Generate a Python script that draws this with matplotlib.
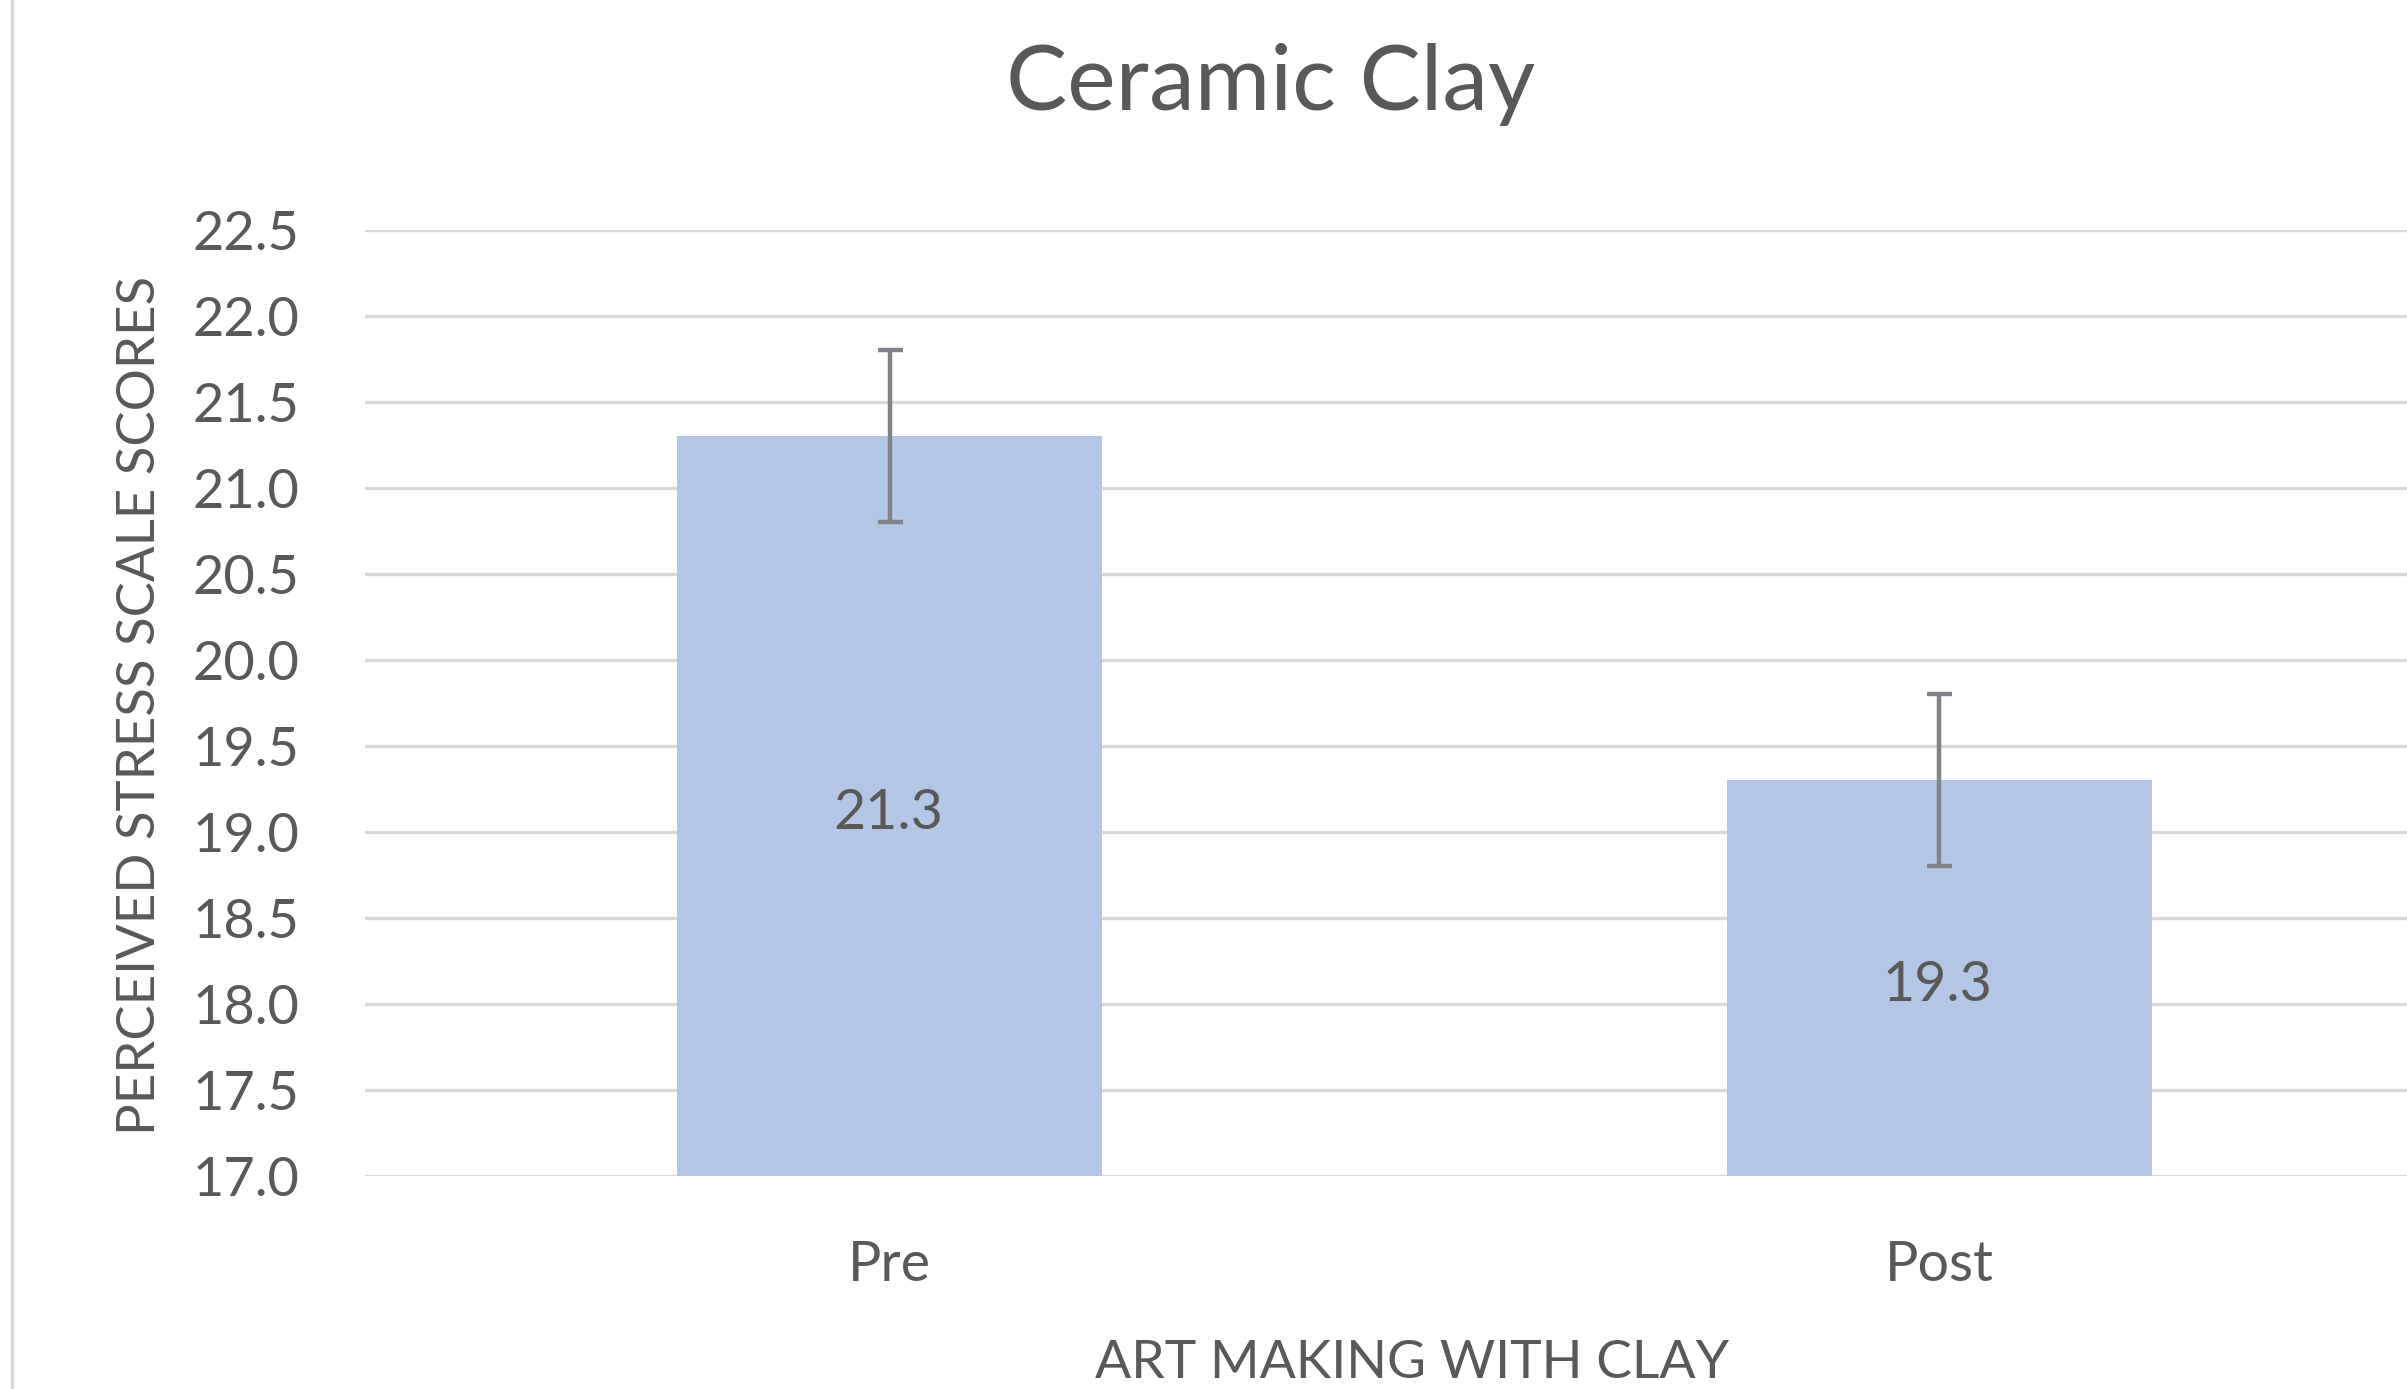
import matplotlib
matplotlib.use("Agg")
import matplotlib.pyplot as plt
from matplotlib.lines import Line2D

categories = ["Pre", "Post"]
scores = [21.3, 19.3]
errors = [0.5, 0.5]
y_ticks = [17.0, 17.5, 18.0, 18.5, 19.0, 19.5, 20.0, 20.5, 21.0, 21.5, 22.0, 22.5]

text_color = "#595959"
bar_color = "#B4C6E5"
grid_color = "#D9D9D9"
plt.rcParams["font.family"] = ["Lato", "DejaVu Sans"]

fig = plt.figure(figsize=(24.07, 13.89), dpi=100)
ax = fig.add_axes([0.1517, 0.1533, 0.872, 0.6811])

x = list(range(len(categories)))
ax.bar(x, scores, width=0.405, bottom=0, color=bar_color, zorder=2)
ax.errorbar(x, scores, yerr=errors, fmt="none", ecolor="#7F8288",
            elinewidth=3.2, capsize=9, capthick=3.2, zorder=3)

for xi, v in zip(x, scores):
    ax.annotate(f"{v:.1f}", (xi, (y_ticks[0] + v) / 2), xytext=(-1, -5),
                textcoords="offset points", ha="center", va="center",
                fontsize=40, color=text_color, zorder=4)

ax.set_xlim(-0.5, 1.5)
ax.set_ylim(y_ticks[0], y_ticks[-1])
ax.set_yticks(y_ticks)
ax.set_yticklabels([f"{t:.1f}" for t in y_ticks])
ax.set_xticks(x)
ax.set_xticklabels(categories)
ax.tick_params(axis="y", length=0, pad=47, labelsize=39, labelcolor=text_color)
ax.tick_params(axis="x", length=0, pad=46, labelsize=40, labelcolor=text_color)
for lbl in ax.get_xticklabels():
    lbl.set_x(lbl.get_position()[0])
ax.yaxis.grid(True, color=grid_color, linewidth=2.4, zorder=0)
ax.set_axisbelow(True)
for s in ax.spines.values():
    s.set_visible(False)

fig.text(0.528, 0.9395, "Ceramic Clay", ha="center", va="center",
         fontsize=66, color=text_color)
fig.text(0.5866, 0.0079, "ART MAKING WITH CLAY", ha="center", va="baseline",
         fontsize=38.5, color=text_color)
fig.text(0.0585, 0.4924, "PERCEIVED STRESS SCALE SCORES", ha="center", va="center",
         rotation=90, fontsize=38, color=text_color)

# chart border on the left edge
fig.add_artist(Line2D([0.005, 0.005], [0, 1], transform=fig.transFigure,
                      color=grid_color, linewidth=2.5))

fig.savefig("out.png", dpi=100)
